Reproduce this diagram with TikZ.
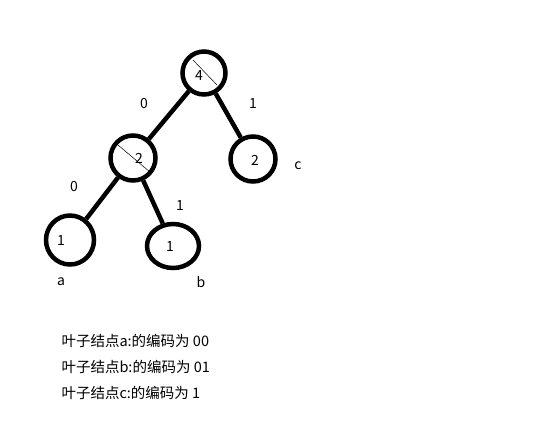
\documentclass[tikz,border=0pt]{standalone}
\usepackage{fontspec}
\setmainfont{Noto Sans CJK SC}
\usetikzlibrary{shapes.geometric}
\begin{document}
\begin{tikzpicture}[x=1pt,y=-1pt,font=\fontsize{14}{16}\selectfont,
  tnode/.style={draw, circle, line width=4.5pt, inner sep=0pt, minimum size=43pt},
  leaf/.style={draw, ellipse, line width=4.5pt, inner sep=0pt},
  tedge/.style={draw, line width=4.5pt},
  slash/.style={draw, line width=0.5pt}]
\useasboundingbox (0,0) rectangle (556,421);

\node[tnode] (4) at (204,73) {};
\node[tnode, minimum size=45pt] (2l) at (133,158) {};
\node[tnode, minimum size=45pt] (2r) at (253,159) {};
\node[leaf, minimum width=48pt, minimum height=49pt] (a) at (70,240) {};
\node[leaf, minimum width=52pt, minimum height=44pt] (b) at (173,246) {};

\path[tedge] (4) -- (2l);
\path[tedge] (4) -- (2r);
\path[tedge] (2l) -- (a);
\path[tedge] (2l) -- (b);

% thin strokes across two circles
\path[slash] (193,60) -- (217,85);
\path[slash] (118,145) -- (150,172);

% numbers inside the circles
\node (n4) at (199,76) {4};
\node (n2l) at (139,158) {2};
\node (n2r) at (255,160) {2};
\node (na) at (61,241) {1};
\node (nb) at (170,247) {1};

\node (e0) at (144,104) {0};
\node (e1) at (253,104) {1};
\node (e2) at (74,187) {0};
\node (e3) at (180,206) {1};
\node (la) at (61,282) {a};
\node (lb) at (201,282) {b};
\node (lc) at (298,166) {c};

\node[anchor=west, font=\fontsize{14.5}{16}\selectfont] (t1) at (58,341) {叶子结点a:的编码为 00};
\node[anchor=west, font=\fontsize{14.5}{16}\selectfont] (t2) at (58,367) {叶子结点b:的编码为 01};
\node[anchor=west, font=\fontsize{14.5}{16}\selectfont] (t3) at (58,393) {叶子结点c:的编码为 1};
\end{tikzpicture}
\end{document}
